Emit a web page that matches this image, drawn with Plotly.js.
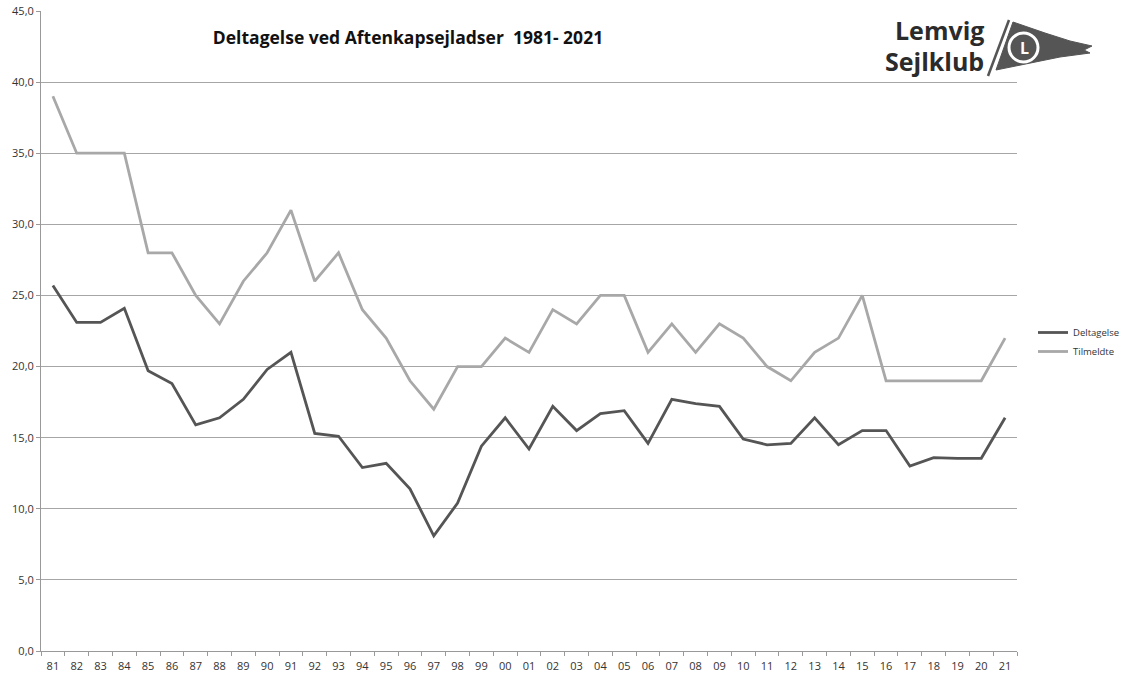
<!DOCTYPE html>
<html>
<head>
<meta charset="utf-8">
<script src="https://cdn.plot.ly/plotly-3.0.1.min.js"></script>
<style>html,body{margin:0;padding:0;background:#fff;}#chart{width:1121px;height:673px;}</style>
</head>
<body>
<div id="chart"></div>
<script>
const years = ["81","82","83","84","85","86","87","88","89","90","91","92","93","94","95","96","97","98","99","00","01","02","03","04","05","06","07","08","09","10","11","12","13","14","15","16","17","18","19","20","21"];
const deltagelse = [25.7,23.1,23.1,24.1,19.7,18.8,15.9,16.4,17.7,19.8,21.0,15.3,15.1,12.9,13.2,11.4,8.1,10.4,14.4,16.4,14.2,17.2,15.5,16.7,16.9,14.6,17.7,17.4,17.2,14.9,14.5,14.6,16.4,14.5,15.5,15.5,13.0,13.6,13.55,13.55,16.4];
const tilmeldte = [39,35,35,35,28,28,25,23,26,28,31,26,28,24,22,19,17,20,20,22,21,24,23,25,25,21,23,21,23,22,20,19,21,22,25,19,19,19,19,19,22];
const yTicks = [0,5,10,15,20,25,30,35,40,45];

const W = 1121, H = 673;
const M = {l:41, r:104, t:11, b:22};
const pw = W - M.l - M.r, ph = H - M.t - M.b;
const px = x => (x - M.l) / pw;
const py = y => (H - M.b - y) / ph;
const P = pts => 'M ' + pts.map(p => px(p[0]).toFixed(5) + ',' + py(p[1]).toFixed(5)).join(' L ') + ' Z';

const font = "Open Sans, Lato, sans-serif";

const traces = [
  {x: years, y: deltagelse, name: 'Deltagelse', type: 'scatter', mode: 'lines',
   line: {color: '#555555', width: 2.8}},
  {x: years, y: tilmeldte, name: 'Tilmeldte', type: 'scatter', mode: 'lines',
   line: {color: '#a8a8a8', width: 2.8}}
];

const layout = {
  width: W, height: H,
  margin: M,
  paper_bgcolor: '#ffffff', plot_bgcolor: '#ffffff',
  separators: ',.',
  font: {family: font, size: 11, color: '#333333'},
  title: {text: '<b>Deltagelse ved Aftenkapsejladser  1981- 2021</b>',
          font: {family: font, size: 17.5, color: '#111'},
          x: 408/W, xref: 'container', xanchor: 'center',
          y: 1 - 38/H, yref: 'container', yanchor: 'middle'},
  xaxis: {type: 'category', tickvals: years, ticktext: years,
          range: [-0.5, years.length - 0.5], autorange: false,
          showgrid: false, showline: true, linecolor: '#999', linewidth: 1,
          ticks: 'outside', tickson: 'boundaries', ticklen: 4, tickcolor: '#999',
          ticklabelstandoff: 5,
          tickfont: {size: 11, color: '#333333'}, zeroline: false, fixedrange: true},
  yaxis: {range: [0, 45], tickvals: yTicks, tickformat: '.1f',
          showgrid: true, gridcolor: '#a6a6a6', gridwidth: 1,
          showline: true, linecolor: '#999', linewidth: 1,
          ticks: 'outside', ticklen: 4, tickcolor: '#999',
          tickfont: {size: 11, color: '#333333'}, zeroline: false, fixedrange: true},
  showlegend: true,
  legend: {xref: 'container', yref: 'container', x: 1033/W, y: 1 - 318/H,
           xanchor: 'left', yanchor: 'top',
           font: {size: 9.5, color: '#333'}, bgcolor: 'rgba(0,0,0,0)',
           tracegroupgap: 0, itemwidth: 30},
  shapes: [
    {type: 'line', xref: 'paper', yref: 'paper',
     x0: px(988), y0: py(76), x1: px(1009), y1: py(20),
     line: {color: '#555', width: 2.5}},
    {type: 'path', xref: 'paper', yref: 'paper',
     path: P([[1013,22],[1045,33],[1070,41],[1092,46],[1084,50],[1090,53],[1060,57],[996,70]]),
     fillcolor: '#555', line: {color: '#555', width: 1}},
    {type: 'circle', xref: 'paper', yref: 'paper',
     x0: px(1009), x1: px(1038), y0: py(62), y1: py(33),
     fillcolor: '#555', line: {color: '#ffffff', width: 3}}
  ],
  annotations: [
    {text: '<b>Lemvig</b>', xref: 'paper', yref: 'paper', x: px(986), y: py(30),
     xanchor: 'right', yanchor: 'middle', showarrow: false,
     font: {family: font, size: 25, color: '#2b2b2b'}},
    {text: '<b>Sejlklub</b>', xref: 'paper', yref: 'paper', x: px(986), y: py(61),
     xanchor: 'right', yanchor: 'middle', showarrow: false,
     font: {family: font, size: 25, color: '#2b2b2b'}},
    {text: '<b>L</b>', xref: 'paper', yref: 'paper', x: px(1024), y: py(48),
     xanchor: 'center', yanchor: 'middle', showarrow: false,
     font: {family: font, size: 16, color: '#ffffff'}}
  ]
};

Plotly.newPlot('chart', traces, layout, {displayModeBar: false, staticPlot: true});
</script>
</body>
</html>
